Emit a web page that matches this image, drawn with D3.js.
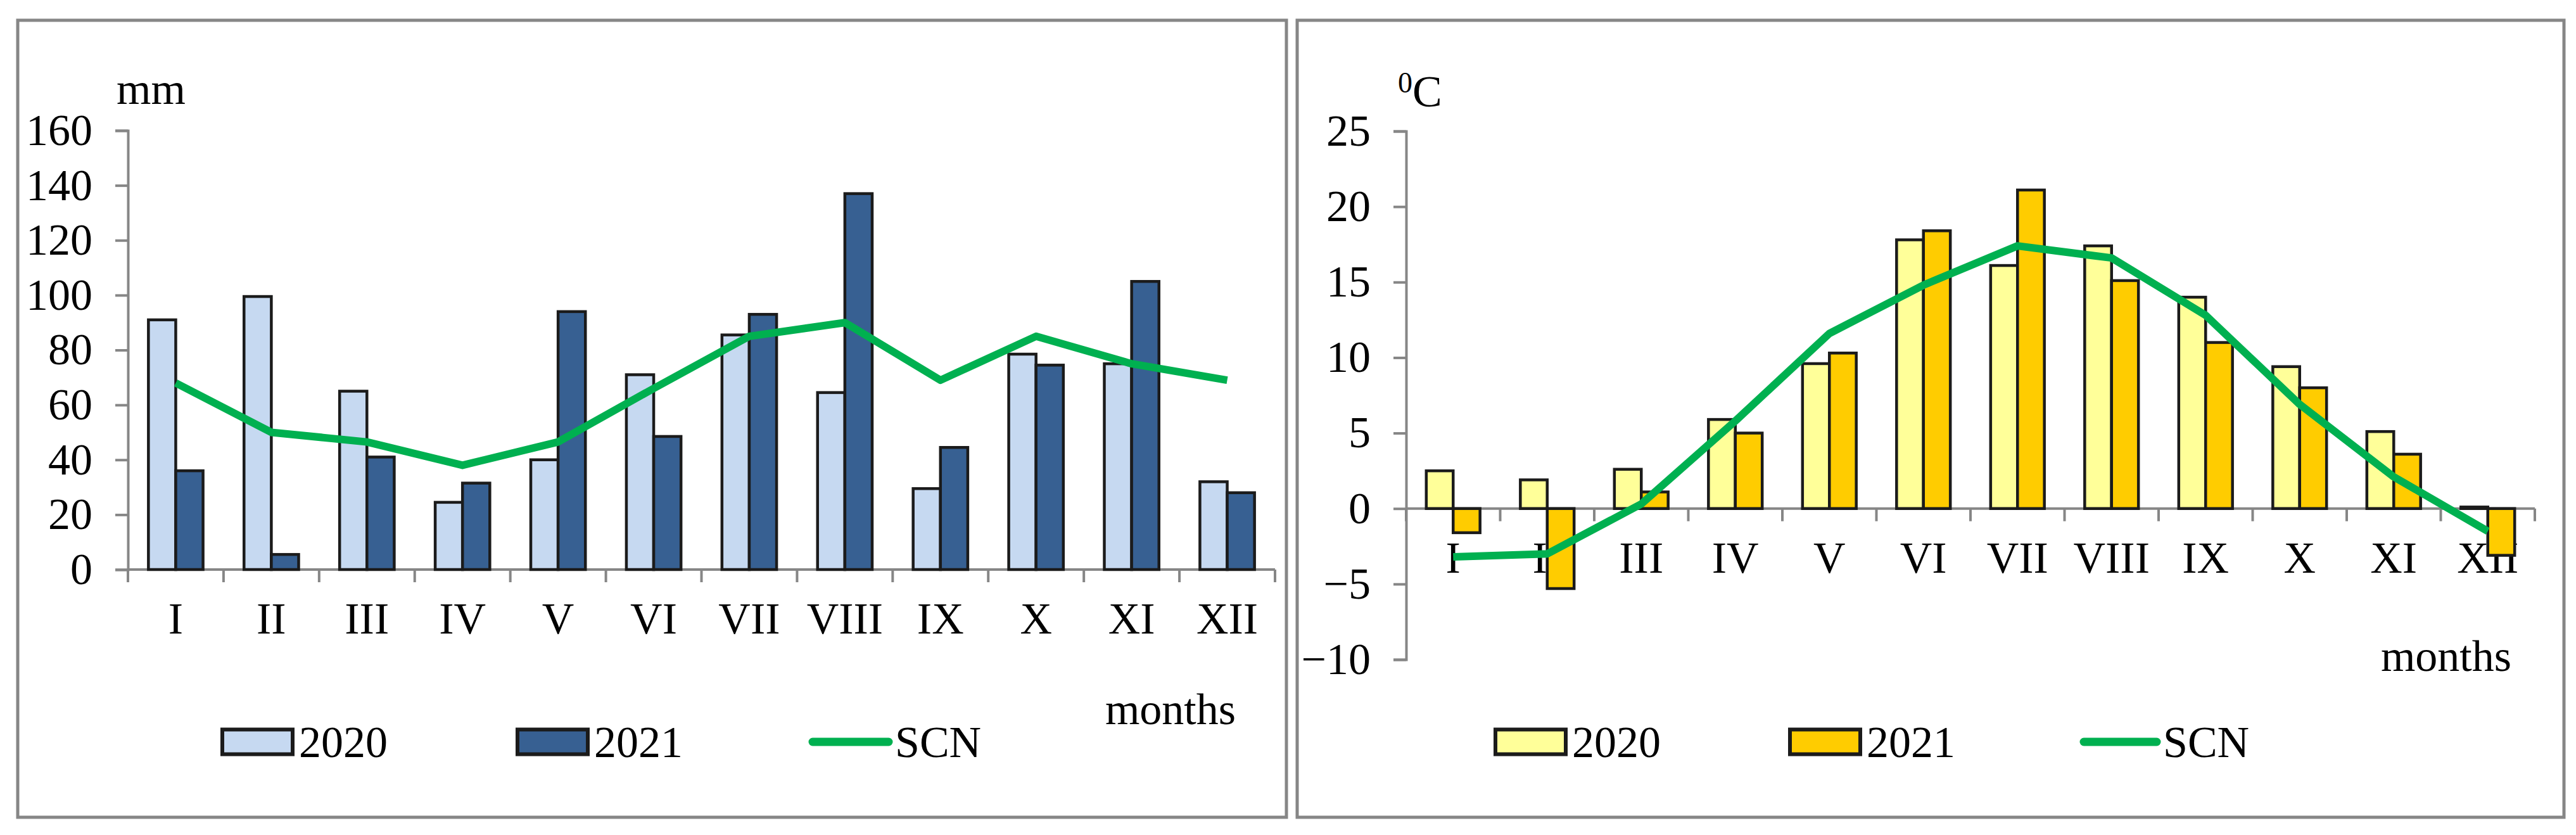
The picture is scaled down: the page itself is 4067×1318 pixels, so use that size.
<!DOCTYPE html>
<html>
<head>
<meta charset="utf-8">
<script src="https://cdn.jsdelivr.net/npm/d3@7"></script>
<style>
  html, body { margin: 0; padding: 0; background: #fff; }
  svg { display: block; }
  text { font-family: "Liberation Serif", "Times New Roman", serif; fill: #000; }
</style>
</head>
<body>
<script>
// ---------- DATA ----------
const months = ["I","II","III","IV","V","VI","VII","VIII","IX","X","XI","XII"];
const seriesNames = ["2020","2021","SCN"];

const precip2020 = [91, 99.5, 65, 24.5, 40, 71, 85.5, 64.5, 29.5, 78.5, 75, 32];
const precip2021 = [36, 5.5, 41, 31.5, 94, 48.5, 93, 137, 44.5, 74.5, 105, 28];
const precipSCN  = [68, 50, 46.5, 38, 46.5, 66, 85, 90, 69, 85, 75, 69];
const precipTicks = [0, 20, 40, 60, 80, 100, 120, 140, 160];

const temp2020 = [2.5, 1.9, 2.6, 5.9, 9.6, 17.8, 16.1, 17.4, 14.0, 9.4, 5.1, 0.1];
const temp2021 = [-1.6, -5.3, 1.1, 5.0, 10.3, 18.4, 21.1, 15.1, 11.0, 8.0, 3.6, -3.1];
const tempSCN  = [-3.2, -3.0, 0.3, 5.8, 11.6, 14.8, 17.4, 16.6, 12.8, 6.9, 2.1, -1.5];
const tempTicks = [-10, -5, 0, 5, 10, 15, 20, 25];

// ---------- LAYOUT ----------
const W = 4067, H = 1318;
const svg = d3.select("body").append("svg").attr("width", W).attr("height", H);

const panels = [
  {
    frame: {x: 28, y: 32, w: 2003, h: 1258},
    x0: 202, x1: 2013, yTop: 206, yBot: 899, domain: [0, 160],
    ticks: precipTicks, a: precip2020, b: precip2021, line: precipSCN,
    colors: ["#C6D9F1", "#376092"],
    unit: {x: 184, y: 164, text: "mm"},
    months: {x: 1848, y: 1143},
    legend: {y: 1171, box1: 351, box2: 817, line: 1283, lineEnd: 1403}
  },
  {
    frame: {x: 2048, y: 32, w: 2000, h: 1258},
    x0: 2220, x1: 4002, yTop: 207, yBot: 1041, domain: [-10, 25],
    ticks: tempTicks, a: temp2020, b: temp2021, line: tempSCN,
    colors: ["#FFFF99", "#FFCC00"],
    unit: {x: 2207, y: 168, text: "C", sup: "0"},
    months: {x: 3862, y: 1059},
    legend: {y: 1171, box1: 2361, box2: 2826, line: 3290, lineEnd: 3405}
  }
];

const axisColor = "#868686";
const fontSize = 70;

panels.forEach(p => {
  const g = svg.append("g");
  // frame
  g.append("rect")
    .attr("x", p.frame.x).attr("y", p.frame.y)
    .attr("width", p.frame.w).attr("height", p.frame.h)
    .attr("fill", "#fff").attr("stroke", axisColor).attr("stroke-width", 5);

  const x = d3.scaleBand().domain(months).range([p.x0, p.x1]).padding(0);
  const xs = d3.scaleBand().domain(["2020","2021"]).range([0, x.bandwidth()])
    .paddingInner(0).paddingOuter(0.75);
  const y = d3.scaleLinear().domain(p.domain).range([p.yBot, p.yTop]);

  // Y axis
  const yAxis = d3.axisLeft(y).tickValues(p.ticks).tickSize(20).tickPadding(36)
    .tickFormat(d3.format("d"));
  const ya = g.append("g").attr("transform", `translate(${p.x0},0)`).call(yAxis);
  ya.select(".domain").attr("stroke", axisColor).attr("stroke-width", 4);
  ya.selectAll(".tick line").attr("stroke", axisColor).attr("stroke-width", 4);
  ya.selectAll(".tick text").attr("font-size", fontSize)
    .attr("font-family", "Liberation Serif").attr("fill", "#000");

  // X axis at zero
  const y0 = y(0);
  const xa = g.append("g");
  xa.append("line").attr("x1", p.x0).attr("x2", p.x1).attr("y1", y0).attr("y2", y0)
    .attr("stroke", axisColor).attr("stroke-width", 4);
  const bounds = months.map(m => x(m)).concat([p.x1]);
  xa.selectAll("line.tk").data(bounds).join("line").attr("class", "tk")
    .attr("x1", d => d).attr("x2", d => d).attr("y1", y0).attr("y2", y0 + 20)
    .attr("stroke", axisColor).attr("stroke-width", 4);
  xa.selectAll("text.mo").data(months).join("text").attr("class", "mo")
    .attr("x", d => x(d) + x.bandwidth() / 2).attr("y", y0 + 101)
    .attr("text-anchor", "middle").attr("font-size", fontSize).text(d => d);

  // bars
  const rows = months.map((m, i) => ({m, v: [p.a[i], p.b[i]]}));
  const bars = g.append("g");
  rows.forEach(r => {
    ["2020","2021"].forEach((s, k) => {
      const v = r.v[k];
      bars.append("rect")
        .attr("x", x(r.m) + xs(s))
        .attr("y", Math.min(y(v), y0))
        .attr("width", xs.bandwidth())
        .attr("height", Math.abs(y(v) - y0))
        .attr("fill", p.colors[k]).attr("stroke", "#1b1b1b").attr("stroke-width", 4.5);
    });
  });

  // SCN line
  const line = d3.line().x((d, i) => x(months[i]) + x.bandwidth() / 2).y(d => y(d));
  g.append("path").datum(p.line).attr("d", line)
    .attr("fill", "none").attr("stroke", "#00B050").attr("stroke-width", 12)
    .attr("stroke-linejoin", "round").attr("stroke-linecap", "butt");

  // unit label
  const ut = g.append("text").attr("x", p.unit.x).attr("y", p.unit.y).attr("font-size", fontSize);
  if (p.unit.sup) {
    ut.append("tspan").attr("font-size", 46).attr("dy", -22).text(p.unit.sup);
    ut.append("tspan").attr("dy", 22).text(p.unit.text);
  } else {
    ut.text(p.unit.text);
  }

  // months label
  g.append("text").attr("x", p.months.x).attr("y", p.months.y)
    .attr("text-anchor", "middle").attr("font-size", fontSize).text("months");

  // legend
  const L = p.legend;
  const bw = 111, bh = 39;
  [L.box1, L.box2].forEach((bx, k) => {
    g.append("rect").attr("x", bx).attr("y", L.y - bh / 2).attr("width", bw).attr("height", bh)
      .attr("fill", p.colors[k]).attr("stroke", "#1b1b1b").attr("stroke-width", 6);
    g.append("text").attr("x", bx + bw + 10).attr("y", L.y + 24)
      .attr("font-size", fontSize).text(seriesNames[k]);
  });
  g.append("line").attr("x1", L.line).attr("x2", L.lineEnd).attr("y1", L.y).attr("y2", L.y)
    .attr("stroke", "#00B050").attr("stroke-width", 13).attr("stroke-linecap", "round");
  g.append("text").attr("x", L.lineEnd + 10).attr("y", L.y + 24)
    .attr("font-size", fontSize).text(seriesNames[2]);
});
</script>
</body>
</html>
